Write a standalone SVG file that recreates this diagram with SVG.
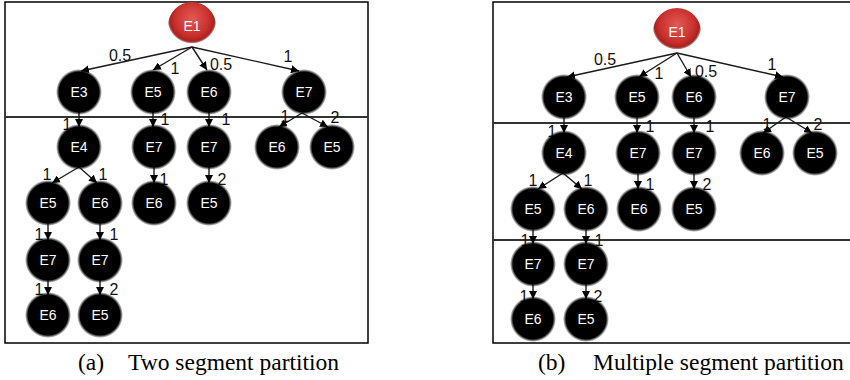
<svg xmlns="http://www.w3.org/2000/svg" width="850" height="380" viewBox="0 0 850 380">
<style>
.frame{fill:none;stroke:#000;stroke-width:1.5}
.sep{stroke:#333;stroke-width:1.8}
.edge{stroke:#1a1a1a;stroke-width:1.4;fill:none;marker-end:url(#ah)}
.nb{fill:url(#gBlack)}
.nr{fill:url(#gRed)}
.nt{font-family:"Liberation Sans",Arial,sans-serif;font-size:14px;fill:#fff;text-anchor:middle}
.el{font-family:"Liberation Sans",Arial,sans-serif;font-size:16px;fill:#111;text-anchor:middle}
.cap{font-family:"Liberation Serif","Times New Roman",serif;font-size:23.5px;fill:#000}
</style>
<defs>
<radialGradient id="gBlack" cx="0.5" cy="0.5" r="0.5">
<stop offset="0" stop-color="#000"/>
<stop offset="0.87" stop-color="#000"/>
<stop offset="1" stop-color="#000" stop-opacity="0"/>
</radialGradient>
<radialGradient id="gRed" cx="0.5" cy="0.35" r="0.6">
<stop offset="0" stop-color="#e35a55"/>
<stop offset="0.6" stop-color="#c9302c"/>
<stop offset="0.78" stop-color="#a8221f"/>
<stop offset="0.83" stop-color="#8a1a18" stop-opacity="0.6"/>
<stop offset="0.86" stop-color="#8a1a18" stop-opacity="0"/>
</radialGradient>
<marker id="ah" viewBox="0 0 10 10" refX="10" refY="5" markerWidth="8" markerHeight="8" markerUnits="userSpaceOnUse" orient="auto">
<path d="M0,0 L10,5 L0,10 z" fill="#000"/>
</marker>
</defs>

<!-- Panel (a) -->
<rect class="frame" x="5" y="2" width="363" height="341"/>
<line class="sep" x1="5" y1="117" x2="368" y2="117"/>

<g id="edges-a">
<line class="edge" x1="192" y1="47" x2="81" y2="71"/>
<line class="edge" x1="192" y1="47" x2="153" y2="70"/>
<line class="edge" x1="192" y1="47" x2="207" y2="70"/>
<line class="edge" x1="192" y1="47" x2="299" y2="71"/>
<line class="edge" x1="79" y1="112" x2="79" y2="127"/>
<line class="edge" x1="153" y1="112" x2="153" y2="127"/>
<line class="edge" x1="209" y1="112" x2="209" y2="127"/>
<line class="edge" x1="302" y1="113" x2="279" y2="127"/>
<line class="edge" x1="302" y1="113" x2="328" y2="127"/>
<line class="edge" x1="79" y1="167" x2="52" y2="183"/>
<line class="edge" x1="79" y1="167" x2="97" y2="183"/>
<line class="edge" x1="154" y1="167" x2="154" y2="183"/>
<line class="edge" x1="209" y1="167" x2="209" y2="183"/>
<line class="edge" x1="48" y1="223" x2="48" y2="240"/>
<line class="edge" x1="100" y1="223" x2="100" y2="240"/>
<line class="edge" x1="48" y1="280" x2="48" y2="295"/>
<line class="edge" x1="100" y1="280" x2="100" y2="295"/>
<text class="el" x="120" y="61">0.5</text>
<text class="el" x="175" y="74">1</text>
<text class="el" x="221" y="70">0.5</text>
<text class="el" x="288" y="62">1</text>
<text class="el" x="67" y="130">1</text>
<text class="el" x="165" y="125">1</text>
<text class="el" x="226" y="125">1</text>
<text class="el" x="285" y="122">1</text>
<text class="el" x="335" y="123">2</text>
<text class="el" x="47" y="180">1</text>
<text class="el" x="103" y="180">1</text>
<text class="el" x="164" y="185">1</text>
<text class="el" x="222" y="185">2</text>
<text class="el" x="39" y="240">1</text>
<text class="el" x="114" y="240">1</text>
<text class="el" x="39" y="295">1</text>
<text class="el" x="114" y="295">2</text>
</g>

<g id="a-E1"><circle class="nr" cx="192" cy="26" r="24"/><text class="nt" x="192" y="31">E1</text></g>
<g id="a-E3"><circle class="nb" cx="79" cy="92" r="23"/><text class="nt" x="79" y="97">E3</text></g>
<g id="a-E5"><circle class="nb" cx="153" cy="92" r="23"/><text class="nt" x="153" y="97">E5</text></g>
<g id="a-E6"><circle class="nb" cx="209" cy="92" r="23"/><text class="nt" x="209" y="97">E6</text></g>
<g id="a-E7"><circle class="nb" cx="304" cy="92" r="23"/><text class="nt" x="304" y="97">E7</text></g>
<g id="a-E4"><circle class="nb" cx="79" cy="147" r="23"/><text class="nt" x="79" y="152">E4</text></g>
<g id="a-E7b"><circle class="nb" cx="154" cy="147" r="23"/><text class="nt" x="154" y="152">E7</text></g>
<g id="a-E7c"><circle class="nb" cx="209" cy="147" r="23"/><text class="nt" x="209" y="152">E7</text></g>
<g id="a-E6b"><circle class="nb" cx="277" cy="147" r="23"/><text class="nt" x="277" y="152">E6</text></g>
<g id="a-E5b"><circle class="nb" cx="332" cy="147" r="23"/><text class="nt" x="332" y="152">E5</text></g>
<g id="a-E5c"><circle class="nb" cx="48" cy="203" r="23"/><text class="nt" x="48" y="208">E5</text></g>
<g id="a-E6c"><circle class="nb" cx="100" cy="203" r="23"/><text class="nt" x="100" y="208">E6</text></g>
<g id="a-E6d"><circle class="nb" cx="154" cy="203" r="23"/><text class="nt" x="154" y="208">E6</text></g>
<g id="a-E5d"><circle class="nb" cx="209" cy="203" r="23"/><text class="nt" x="209" y="208">E5</text></g>
<g id="a-E7d"><circle class="nb" cx="48" cy="260" r="23"/><text class="nt" x="48" y="265">E7</text></g>
<g id="a-E7e"><circle class="nb" cx="100" cy="260" r="23"/><text class="nt" x="100" y="265">E7</text></g>
<g id="a-E6e"><circle class="nb" cx="48" cy="315" r="23"/><text class="nt" x="48" y="320">E6</text></g>
<g id="a-E5e"><circle class="nb" cx="100" cy="315" r="23"/><text class="nt" x="100" y="320">E5</text></g>

<!-- Panel (b) -->
<path class="frame" d="M851,2 H493 V343 H851"/>
<line class="sep" x1="493" y1="123" x2="850" y2="123"/>
<line class="sep" x1="493" y1="240" x2="850" y2="240"/>

<g id="edges-b">
<line class="edge" x1="677" y1="53" x2="567" y2="77"/>
<line class="edge" x1="677" y1="53" x2="639" y2="77"/>
<line class="edge" x1="677" y1="53" x2="691" y2="77"/>
<line class="edge" x1="677" y1="53" x2="783" y2="77"/>
<line class="edge" x1="564" y1="117" x2="564" y2="133"/>
<line class="edge" x1="637" y1="117" x2="637" y2="133"/>
<line class="edge" x1="694" y1="117" x2="694" y2="133"/>
<line class="edge" x1="786" y1="117" x2="763" y2="133"/>
<line class="edge" x1="786" y1="117" x2="812" y2="133"/>
<line class="edge" x1="563" y1="173" x2="538" y2="189"/>
<line class="edge" x1="563" y1="173" x2="582" y2="189"/>
<line class="edge" x1="638" y1="173" x2="638" y2="189"/>
<line class="edge" x1="694" y1="173" x2="694" y2="189"/>
<line class="edge" x1="533" y1="229" x2="533" y2="244"/>
<line class="edge" x1="586" y1="229" x2="586" y2="244"/>
<line class="edge" x1="533" y1="284" x2="533" y2="299"/>
<line class="edge" x1="586" y1="284" x2="586" y2="299"/>
<text class="el" x="605" y="65">0.5</text>
<text class="el" x="659" y="79">1</text>
<text class="el" x="706" y="77">0.5</text>
<text class="el" x="772" y="70">1</text>
<text class="el" x="552" y="137">1</text>
<text class="el" x="650" y="132">1</text>
<text class="el" x="710" y="132">1</text>
<text class="el" x="767" y="130">1</text>
<text class="el" x="818" y="130">2</text>
<text class="el" x="533" y="186">1</text>
<text class="el" x="588" y="186">1</text>
<text class="el" x="650" y="190">1</text>
<text class="el" x="707" y="190">2</text>
<text class="el" x="525" y="246">1</text>
<text class="el" x="599" y="246">1</text>
<text class="el" x="524" y="302">1</text>
<text class="el" x="598" y="302">2</text>
</g>

<g id="b-E1"><circle class="nr" cx="677" cy="32" r="24"/><text class="nt" x="677" y="37">E1</text></g>
<g id="b-E3"><circle class="nb" cx="564" cy="97" r="23"/><text class="nt" x="564" y="102">E3</text></g>
<g id="b-E5"><circle class="nb" cx="637" cy="97" r="23"/><text class="nt" x="637" y="102">E5</text></g>
<g id="b-E6"><circle class="nb" cx="694" cy="97" r="23"/><text class="nt" x="694" y="102">E6</text></g>
<g id="b-E7"><circle class="nb" cx="787" cy="97" r="23"/><text class="nt" x="787" y="102">E7</text></g>
<g id="b-E4"><circle class="nb" cx="564" cy="153" r="23"/><text class="nt" x="564" y="158">E4</text></g>
<g id="b-E7b"><circle class="nb" cx="638" cy="153" r="23"/><text class="nt" x="638" y="158">E7</text></g>
<g id="b-E7c"><circle class="nb" cx="694" cy="153" r="23"/><text class="nt" x="694" y="158">E7</text></g>
<g id="b-E6b"><circle class="nb" cx="762" cy="153" r="23"/><text class="nt" x="762" y="158">E6</text></g>
<g id="b-E5b"><circle class="nb" cx="815" cy="153" r="23"/><text class="nt" x="815" y="158">E5</text></g>
<g id="b-E5c"><circle class="nb" cx="533" cy="209" r="23"/><text class="nt" x="533" y="214">E5</text></g>
<g id="b-E6c"><circle class="nb" cx="586" cy="209" r="23"/><text class="nt" x="586" y="214">E6</text></g>
<g id="b-E6d"><circle class="nb" cx="639" cy="209" r="23"/><text class="nt" x="639" y="214">E6</text></g>
<g id="b-E5d"><circle class="nb" cx="694" cy="209" r="23"/><text class="nt" x="694" y="214">E5</text></g>
<g id="b-E7d"><circle class="nb" cx="533" cy="264" r="23"/><text class="nt" x="533" y="269">E7</text></g>
<g id="b-E7e"><circle class="nb" cx="586" cy="264" r="23"/><text class="nt" x="586" y="269">E7</text></g>
<g id="b-E6e"><circle class="nb" cx="533" cy="319" r="23"/><text class="nt" x="533" y="324">E6</text></g>
<g id="b-E5e"><circle class="nb" cx="586" cy="319" r="23"/><text class="nt" x="586" y="324">E5</text></g>

<text class="cap" x="78" y="370">(a)</text>
<text class="cap" x="128" y="370">Two segment partition</text>
<text class="cap" x="538" y="370">(b)</text>
<text class="cap" x="593" y="370">Multiple segment partition</text>
</svg>
